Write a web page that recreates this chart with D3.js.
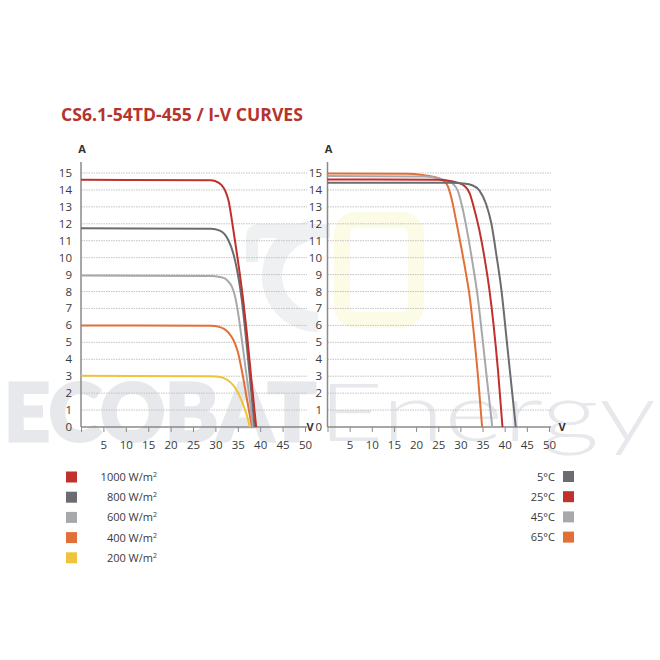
<!DOCTYPE html>
<html>
<head>
<meta charset="utf-8">
<script src="https://cdn.jsdelivr.net/npm/d3@7"></script>
<style>
  html, body { margin: 0; padding: 0; background: #ffffff; }
  svg { display: block; font-family: "Open Sans", "Noto Sans", sans-serif; }
</style>
</head>
<body>
<svg id="chart" width="660" height="660"></svg>
<script>
// ---------- DATA ----------
const titleText = "CS6.1-54TD-455 / I-V CURVES";
const watermarkBold = "ECOBAT";
const watermarkLight = "Energy";
const xTicks = [0, 5, 10, 15, 20, 25, 30, 35, 40, 45, 50];
const xTickLabels = ["", "5", "10", "15", "20", "25", "30", "35", "40", "45", "50"];
const yTicks = [0, 1, 2, 3, 4, 5, 6, 7, 8, 9, 10, 11, 12, 13, 14, 15];

// Left chart: irradiance (V, A)
const irrLabels = ["1000 W/m", "800 W/m", "600 W/m", "400 W/m", "200 W/m"];
const irr1000 = [[0,14.6],[29,14.57],[29.9,14.53],[31.4,14.28],[32.2,13.95],[32.9,13.4],[34.0,11.65],[35.1,9.7],[36.25,7.4],[37,5.6],[38,2.9],[39.1,0]];
const irr800  = [[0,11.73],[29,11.71],[31,11.6],[32,11.4],[32.9,11.03],[34.0,10.25],[35.1,8.9],[35.9,7.5],[37,4.8],[38,2.1],[38.75,0]];
const irr600  = [[0,8.94],[29,8.92],[31,8.86],[32.2,8.76],[33,8.55],[33.7,8.28],[34.4,7.7],[35,6.85],[36,4.95],[37,2.95],[38,0.9],[38.35,0]];
const irr400  = [[0,6.0],[29,5.98],[31,5.9],[32,5.78],[33,5.55],[34,5.15],[35,4.45],[36,3.2],[37,1.7],[38,0.25],[38.2,0]];
const irr200  = [[0,3.02],[29,3.0],[31,2.95],[32,2.87],[33,2.72],[34,2.46],[35,2.05],[36,1.45],[37,0.7],[37.7,0]];
const irrSeries = [irr1000, irr800, irr600, irr400, irr200];

// Right chart: temperature (V, A)
const tempLabels = ["5°C", "25°C", "45°C", "65°C"];
const temp5  = [[0,14.43],[28,14.42],[30.6,14.38],[32.8,14.26],[34.3,13.96],[35.8,13.17],[37.0,12.0],[38.1,10.2],[39.3,8.0],[40.5,5.0],[41.5,2.5],[42.5,0]];
const temp25 = [[0,14.62],[25,14.6],[28.3,14.5],[30.6,14.3],[32.1,13.8],[33.2,12.8],[34.3,11.6],[35.5,9.9],[36.6,8.0],[37.5,6.0],[38.5,3.3],[39.5,0]];
const temp45 = [[0,14.82],[22,14.8],[24,14.75],[26,14.62],[28.3,14.36],[29.4,13.96],[30.6,12.78],[31.7,11.3],[32.8,9.6],[33.9,7.7],[35,5.2],[36,2.8],[37.2,0]];
const temp65 = [[0,14.97],[18,14.95],[21,14.9],[23,14.82],[25.3,14.66],[26.8,14.4],[27.9,13.6],[29.1,12.1],[30.2,10.6],[31.3,9.0],[32.1,7.7],[33,5.6],[34,2.9],[34.9,0]];
const tempSeries = [temp5, temp25, temp45, temp65];

// ---------- STYLE ----------
const irrColors  = ["#c0302c", "#6b6c70", "#a7a8ac", "#e07038", "#efc43c"];
const tempColors = ["#6b6c70", "#c0302c", "#a7a8ac", "#e07038"];

const svg = d3.select("#chart");

// Watermark (behind the chart)
const wm = svg.append("g").attr("class", "watermark");
// faint logo marks
wm.append("path")
  .attr("d", d3.arc()({innerRadius: 36, outerRadius: 56, startAngle: -Math.PI * 0.05, endAngle: -Math.PI * 1.0 }))
  .attr("transform", "translate(318,276)")
  .attr("fill", "#eef0f2");
wm.append("path")
  .attr("d", "M246,238 Q246,224 260,224 L330,224 L330,238 L262,238 Q258,238 258,244 L258,262 L246,262 Z")
  .attr("fill", "#eef0f2");
wm.append("rect").attr("x", 342).attr("y", 220).attr("width", 74).attr("height", 100).attr("rx", 14)
  .attr("fill", "none").attr("stroke", "#fbfbe6").attr("stroke-width", 16);

wm.append("text").attr("x", 4).attr("y", 441)
  .attr("font-family", "Lato").attr("font-weight", 900).attr("font-size", 80)
  .attr("fill", "#e6e8eb").attr("stroke", "#e6e8eb").attr("stroke-width", 3)
  .attr("textLength", 312).attr("lengthAdjust", "spacingAndGlyphs")
  .text(watermarkBold);
wm.append("text").attr("x", 318).attr("y", 441)
  .attr("font-family", "Lato").attr("font-weight", 300).attr("font-size", 80)
  .attr("fill", "#e6e8eb").attr("textLength", 338).attr("lengthAdjust", "spacingAndGlyphs")
  .text(watermarkLight);

// Title
svg.append("text").attr("x", 61).attr("y", 121)
  .attr("font-size", 17.6).attr("font-weight", 700).attr("fill", "#b5342c")
  .text(titleText);

function drawPanel(x0, x1, gridEnd, yLabelX, vLabelX, series, colors) {
  const x = d3.scaleLinear().domain([0, 50]).range([x0, x1]);
  const y = d3.scaleLinear().domain([0, 15]).range([427, 173]);
  const g = svg.append("g");

  // grid
  g.selectAll("line.grid").data(yTicks.filter(d => d > 0)).join("line")
    .attr("x1", x0).attr("x2", gridEnd)
    .attr("y1", d => y(d)).attr("y2", d => y(d))
    .attr("stroke", "#c2c2c2").attr("stroke-width", 1).attr("stroke-dasharray", "1.5,1");

  // y labels
  g.selectAll("text.yl").data(yTicks).join("text")
    .attr("x", yLabelX).attr("y", d => y(d) + 4)
    .attr("text-anchor", "end").attr("font-size", 11.5).attr("fill", "#3a3a3a")
    .text(d => d);

  // x axis via d3 axis
  const xAxis = d3.axisBottom(x).tickValues(xTicks).tickSize(5)
    .tickFormat((d, i) => xTickLabels[i]);
  const ax = g.append("g").attr("transform", "translate(0,427)").call(xAxis);
  ax.select(".domain").attr("stroke", "#8a8a8a").attr("stroke-width", 1.5)
    .attr("d", `M${x0},0H${x1 + 2}`);
  ax.selectAll(".tick line").attr("stroke", "#8a8a8a").attr("stroke-width", 1);
  ax.selectAll(".tick text").attr("font-size", 11.5).attr("fill", "#3a3a3a")
    .attr("font-family", "Open Sans").attr("dy", "0.71em").attr("y", 14);

  // y axis line
  g.append("line").attr("x1", x0).attr("x2", x0).attr("y1", 162).attr("y2", 427)
    .attr("stroke", "#8a8a8a").attr("stroke-width", 1.5);

  // axis names
  g.append("text").attr("x", x0 + 1).attr("y", 153).attr("text-anchor", "middle")
    .attr("font-size", 11).attr("font-weight", 700).attr("fill", "#333").text("A");
  g.append("text").attr("x", vLabelX).attr("y", 431).attr("text-anchor", "middle")
    .attr("font-size", 11).attr("font-weight", 700).attr("fill", "#333").text("V");

  // curves
  const line = d3.line().x(d => x(d[0])).y(d => y(d[1])).curve(d3.curveMonotoneX);
  series.slice().reverse().forEach((s, i) => {
    const idx = series.length - 1 - i;
    g.append("path").datum(s).attr("d", line)
      .attr("fill", "none").attr("stroke", colors[idx]).attr("stroke-width", 2);
  });
}

drawPanel(81, 305, 307, 72, 310, irrSeries, irrColors);
drawPanel(327.5, 549, 551, 322, 562, tempSeries, tempColors);

// Left legend
const legL = svg.append("g");
irrLabels.forEach((lab, i) => {
  const cy = 477 + i * 20.2;
  legL.append("rect").attr("x", 66).attr("y", cy - 5.5).attr("width", 11).attr("height", 11)
    .attr("fill", irrColors[i]);
  const t = legL.append("text").attr("x", 157).attr("y", cy + 4)
    .attr("text-anchor", "end").attr("font-size", 11).attr("fill", "#3a3a3a");
  t.append("tspan").text(lab);
  t.append("tspan").attr("font-size", 7).attr("dy", -4).text("2");
});

// Right legend
const legR = svg.append("g");
tempLabels.forEach((lab, i) => {
  const cy = 476.5 + i * 20.2;
  legR.append("rect").attr("x", 563).attr("y", cy - 5.5).attr("width", 11).attr("height", 11)
    .attr("fill", tempColors[i]);
  legR.append("text").attr("x", 555).attr("y", cy + 4)
    .attr("text-anchor", "end").attr("font-size", 11).attr("fill", "#3a3a3a").text(lab);
});
</script>
</body>
</html>
